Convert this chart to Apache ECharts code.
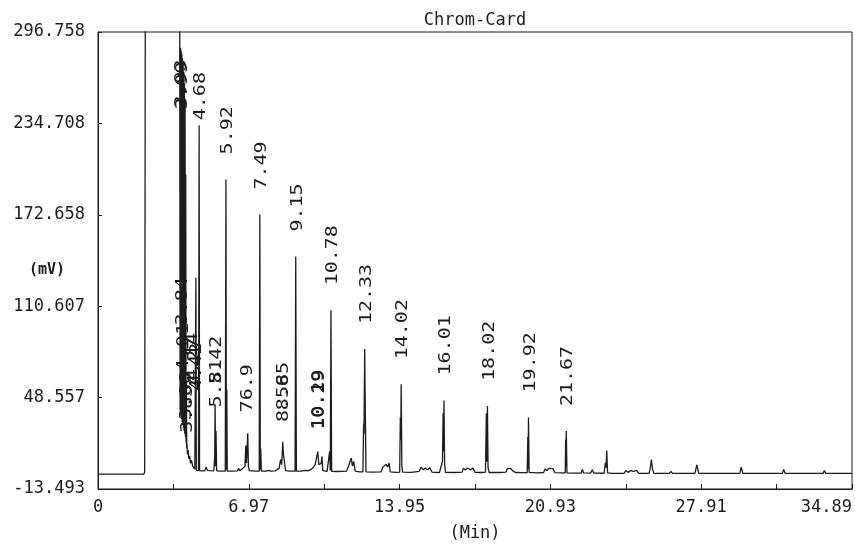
<!DOCTYPE html>
<html>
<head>
<meta charset="utf-8">
<script src="https://cdn.jsdelivr.net/npm/echarts@6/dist/echarts.min.js"></script>
<style>
html,body{margin:0;padding:0;background:#fff;}
#chart{width:855px;height:547px;}
</style>
</head>
<body>
<div id="chart"></div>
<script>
// ---- axis ticks ----
const yTickLabels = ['-13.493', '48.557', '110.607', '172.658', '234.708', '296.758'];
const xTickLabels = ['0', '6.97', '13.95', '20.93', '27.91', '34.89'];
const yMin = -13.493, yMax = 296.758, yInterval = 62.0502;
const xMin = 0, xMax = 34.89, xInterval = 3.489;

// ---- chromatogram trace [time (min), signal (mV)] ----
const trace = [
  [0, -3.4], [2.12, -3.4], [2.16, -2], [2.19, 320], [3.78, 320],
  [3.80, 40], [3.82, 286], [3.835, 36], [3.85, 284], [3.865, 34], [3.88, 282], [3.895, 32],
  [3.91, 279], [3.925, 30], [3.94, 275], [3.955, 28], [3.97, 270], [3.985, 26], [4.00, 262],
  [4.015, 24], [4.03, 250], [4.045, 22], [4.06, 200], [4.075, 18], [4.09, 60], [4.105, 14],
  [4.12, 17], [4.14, 10], [4.17, 13], [4.20, 7], [4.24, 9], [4.28, 4], [4.33, 6], [4.38, 2],
  [4.43, 3], [4.48, 0], [4.51, -0.5], [4.53, 130], [4.55, -0.8],
  [4.65, -1], [4.68, 233.5], [4.70, -1], [4.80, -1.2], [4.94, -1.2], [5.0, 1.5], [5.06, -0.8],
  [5.12, 0.5], [5.18, -1.0], [5.36, -1.2], [5.40, 8], [5.42, 44], [5.44, 2], [5.46, 26], [5.49, -1.0],
  [5.6, -1.3], [5.89, -1.4], [5.92, 196.7], [5.94, -0.5], [5.96, 54], [5.98, -1.3], [6.2, -1.4],
  [6.45, -1.2], [6.5, 0.5], [6.56, -1], [6.66, 0], [6.74, -1.2], [6.8, 2], [6.84, 16], [6.87, 4],
  [6.93, 24.3], [6.96, 2], [7.0, -1], [7.3, -1.4], [7.46, -1.4], [7.49, 172.8], [7.51, -0.5],
  [7.53, 14], [7.56, -1.3], [7.75, -1.4], [7.9, -0.8], [8.0, -1.3], [8.2, -1.2], [8.38, 0.5],
  [8.45, 6.4], [8.5, 3], [8.55, 18.5], [8.58, 10], [8.62, 6], [8.68, -1], [8.9, -1.4],
  [9.12, -1.4], [9.15, 144.3], [9.18, -1.4], [9.4, -1.3], [9.6, -0.8], [9.7, -1.2], [9.85, -0.3],
  [9.95, 1], [10.05, 3], [10.12, 4], [10.17, 11.9], [10.22, 3], [10.33, 4], [10.36, 8.6], [10.4, -1],
  [10.6, -1.5], [10.69, -1.4], [10.72, 12], [10.75, -1], [10.78, 107.8], [10.81, -1.5], [11.1, -1.6],
  [11.5, -1.4], [11.58, 1.5], [11.64, 0.5], [11.72, 7.5], [11.77, 2], [11.83, 5.3], [11.9, -1.4],
  [12.1, -1.8], [12.26, -1.8], [12.29, 31], [12.31, 24], [12.34, 81.5], [12.37, 38], [12.4, -1.8],
  [12.7, -2], [13.1, -1.8], [13.18, 1.5], [13.25, 0.5], [13.33, 3.2], [13.4, 1.5], [13.47, 4.2],
  [13.52, -1.8], [13.8, -2.2], [13.96, -2], [13.99, 35], [14.01, 20], [14.03, 57.6], [14.06, 2],
  [14.1, -2], [14.5, -2.2], [14.86, -1.5], [14.95, 1.3], [15.05, -0.5], [15.15, 0.8], [15.25, -0.5],
  [15.35, 1], [15.45, -2], [15.8, -2.3], [15.94, 5.3], [15.97, 38], [15.99, 12], [16.01, 46.6],
  [16.04, 3], [16.08, -2.2], [16.5, -2.3], [16.85, -2], [16.9, 0.5], [17.0, -0.5], [17.1, 0.8],
  [17.25, -0.5], [17.35, 0.8], [17.45, -2.2], [17.75, -2.3], [17.93, -2], [17.97, 38], [17.99, 5],
  [18.02, 42.9], [18.05, 1], [18.1, -2.3], [18.6, -2.3], [18.88, -2], [18.93, 0.3], [19.02, -1],
  [19.1, 0.5], [19.18, -1], [19.25, 0.3], [19.32, -2.3], [19.6, -2.4], [19.86, -2.4], [19.89, 21.8],
  [19.905, 0], [19.92, 35.1], [19.95, -2.2], [20.3, -2.5], [20.62, -2.3], [20.68, 0], [20.78, -1],
  [20.86, 0.5], [20.95, -0.5], [21.05, 0.3], [21.15, -2.4], [21.45, -2.6], [21.62, -2.5],
  [21.64, 20.1], [21.655, 2], [21.67, 25.8], [21.70, -2.5], [21.9, -2.7], [22.36, -2.7], [22.41, -0.2],
  [22.47, -2.6], [22.8, -2.7], [22.87, -0.4], [22.94, -2.7], [23.42, -2.8], [23.48, 4.4], [23.51, 1],
  [23.54, 12.6], [23.58, -2.5], [23.8, -2.9], [24.35, -2.8], [24.42, -1], [24.52, -2.2], [24.65, -1],
  [24.78, -1.5], [24.92, -0.8], [25.02, -2.9], [25.5, -2.9], [25.56, 1], [25.61, 6.4], [25.66, 0],
  [25.72, -2.9], [26.44, -2.9], [26.51, -1.5], [26.58, -2.9], [26.98, -2.9], [27.05, -1.8],
  [27.12, -2.9], [27.62, -2.9], [27.71, 2.9], [27.8, -2.9], [28.48, -2.9], [28.54, -2], [28.6, -2.9],
  [29.14, -2.9], [29.2, -2.2], [29.26, -2.9], [29.7, -2.9], [29.76, 1.3], [29.84, -2.9],
  [30.5, -2.9], [30.56, -2], [30.62, -2.9], [31.67, -2.9], [31.73, -0.2], [31.8, -2.9],
  [32.38, -2.9], [32.44, -2.1], [32.5, -2.9], [33.55, -2.9], [33.61, -0.9], [33.68, -2.9],
  [34.89, -2.9]
];

// ---- peak retention-time labels: text, time, anchor height ----
const labelTexts = [
  '4.68', '5.92', '7.49', '9.15', '10.78', '12.33', '14.02', '16.01', '18.02', '19.92', '21.67',
  '3.99', '3.93', '3.84', '4.01', '3.86', '3.83', '4.14', '4.27', '4.42',
  '5.81', '5.42', '76.9', '8.58', '8.65', '10.19', '10.29'
];
const labelTimes = [
  4.68, 5.92, 7.49, 9.15, 10.78, 12.33, 14.02, 16.01, 18.02, 19.92, 21.67,
  3.84, 3.81, 3.82, 3.86, 4.0, 4.07, 4.30, 4.39, 4.48,
  5.41, 5.41, 6.84, 8.5, 8.5, 10.12, 10.17
];
const labelValues = [
  219.9, 196.7, 172.8, 144.3, 107.8, 81.5, 57.6, 46.6, 42.9, 35.1, 25.8,
  227.1, 228.5, 80.6, 49.5, 16.3, 7.7, 42.9, 39.5, 36.2,
  24.9, 40.9, 21.6, 15.0, 23.0, 9.7, 9.7
];

const MONO = '"DejaVu Sans Mono", "Liberation Mono", monospace';
const INK = '#1c1c1c';

const chart = echarts.init(document.getElementById('chart'), null, {renderer: 'canvas'});
chart.setOption({
  animation: false,
  backgroundColor: '#ffffff',
  grid: {left: 98, right: 2, top: 32, bottom: 46, show: true, borderColor: INK, borderWidth: 1, backgroundColor: 'transparent'},
  graphic: [
    {type: 'text', x: 475, y: 21, style: {text: 'Chrom-Card', font: '17px ' + MONO, fill: INK, align: 'center', verticalAlign: 'middle'}},
    {type: 'text', x: 47, y: 270, style: {text: '(mV)', font: 'bold 15px ' + MONO, fill: INK, align: 'center', verticalAlign: 'middle'}}
  ],
  xAxis: {
    type: 'value', min: xMin, max: xMax, interval: xInterval,
    name: '(Min)', nameLocation: 'middle', nameGap: 36,
    nameTextStyle: {fontFamily: MONO, fontSize: 17, color: INK},
    axisLine: {show: true, onZero: false, lineStyle: {color: INK, width: 1}},
    axisTick: {show: true, inside: true, length: 5, lineStyle: {color: INK}},
    splitLine: {show: false},
    axisLabel: {
      show: true, interval: 0, margin: 10, fontFamily: MONO, fontSize: 17, color: INK,
      showMaxLabel: true, showMinLabel: true, hideOverlap: false, alignMaxLabel: 'right',
      formatter: function (v) {
        const i = Math.round((v - xMin) / xInterval);
        return i % 2 === 0 ? xTickLabels[i / 2] : '';
      }
    }
  },
  yAxis: {
    type: 'value', min: yMin, max: yMax, interval: yInterval,
    axisLine: {show: true, onZero: false, lineStyle: {color: INK, width: 1}},
    axisTick: {show: true, inside: true, length: 4, lineStyle: {color: INK}},
    splitLine: {show: false},
    axisLabel: {
      show: true, margin: 13, fontFamily: MONO, fontSize: 17, color: INK,
      showMaxLabel: true, showMinLabel: true,
      formatter: function (v) {
        return yTickLabels[Math.round((v - yMin) / yInterval)];
      }
    }
  },
  series: [
    {
      type: 'line', data: trace, symbol: 'none', clip: true, smooth: false,
      lineStyle: {color: INK, width: 1.3}, z: 2
    },
    {
      type: 'custom', z: 3, clip: false,
      data: labelTimes.map(function (t, i) { return [t, labelValues[i]]; }),
      renderItem: function (params, api) {
        const p = api.coord([api.value(0), api.value(1)]);
        return {
          type: 'text', x: p[0] + 2, y: p[1] - 25, rotation: Math.PI / 2, scaleX: 1.25, scaleY: 1,
          style: {text: labelTexts[params.dataIndex], font: '16px ' + MONO, fill: INK, align: 'left', verticalAlign: 'middle'}
        };
      }
    }
  ]
});
</script>
</body>
</html>
